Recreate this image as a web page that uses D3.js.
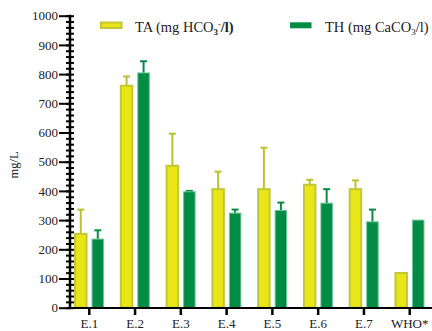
<html>
  <head>
    <script src="https://d3js.org/d3.v7.min.js"></script>
    <style>
      svg text { font-family: "Liberation Serif", "Times New Roman", serif !important; }
    </style>
  </head>
  <body style="margin:0;background:#fff;">
    <div id="chart"></div>
    <script>
      // 1. Data
      const sites = ["E.1", "E.2", "E.3", "E.4", "E.5", "E.6", "E.7", "WHO*"];
      const taMean = [253, 760, 486, 406, 406, 421, 406, 119];
      const taErr = [83, 32, 110, 60, 142, 17, 30, 0];
      const thMean = [235, 804, 397, 324, 333, 358, 294, 300];
      const thErr = [30, 40, 3, 12, 27, 48, 42, 0];
      const yTicks = [0, 100, 200, 300, 400, 500, 600, 700, 800, 900, 1000];

      const width = 432, height = 331;
      const taFill = "#e8e617", taEdge = "#c3c637";
      const thFill = "#008c45", thEdge = "#6cc597";

      const svg = d3.create("svg")
        .attr("width", width)
        .attr("height", height);

      // 2. Scales
      const xScale = d3.scaleBand()
        .domain(sites)
        .range([66.4, 432.6]);

      const yScale = d3.scaleLinear()
        .domain([0, 1000])
        .range([307.7, 15.7]);

      const half = 8.5, bw = 11.5;

      const rows = sites.map((s, i) => [
        {site: s, key: "ta", value: taMean[i], err: taErr[i]},
        {site: s, key: "th", value: thMean[i], err: thErr[i]}
      ]).flat();

      const cx = d => xScale(d.site) + xScale.bandwidth() / 2 + (d.key === "ta" ? -half : half);

      // 3. Error bars (drawn under bars)
      const eb = svg.append("g")
        .selectAll("g")
        .data(rows.filter(d => d.err > 0))
        .join("g")
        .attr("stroke", d => d.key === "ta" ? "#bcc22e" : "#0a8a45")
        .attr("stroke-width", 2);
      eb.append("line")
        .attr("x1", cx).attr("x2", cx)
        .attr("y1", d => yScale(d.value)).attr("y2", d => yScale(d.value + d.err));
      eb.append("line")
        .attr("x1", d => cx(d) - 3.5).attr("x2", d => cx(d) + 3.5)
        .attr("y1", d => yScale(d.value + d.err)).attr("y2", d => yScale(d.value + d.err));

      // 4. Bars
      svg.append("g")
        .selectAll("rect")
        .data(rows)
        .join("rect")
        .attr("x", d => cx(d) - bw / 2)
        .attr("y", d => yScale(d.value))
        .attr("width", bw)
        .attr("height", d => yScale(0) - yScale(d.value))
        .attr("fill", d => d.key === "ta" ? taFill : thFill)
        .attr("stroke", d => d.key === "ta" ? taEdge : thEdge)
        .attr("stroke-width", d => d.key === "ta" ? 2 : 1);

      // 5. Y axis with minor ticks
      const yAxis = svg.append("g")
        .attr("transform", "translate(70,0)");
      yAxis.append("g")
        .call(d3.axisLeft(yScale).tickValues(d3.range(0, 1001, 20)).tickSize(0).tickFormat(""))
        .call(g => g.selectAll(".tick line").attr("x1", -4).attr("x2", 4).attr("stroke-width", 2))
        .call(g => g.select(".domain").remove());
      yAxis.append("g")
        .call(d3.axisLeft(yScale).tickValues(yTicks).tickFormat(d3.format("d")).tickSize(11).tickPadding(1))
        .call(g => g.selectAll(".tick line").attr("stroke-width", 2))
        .call(g => g.selectAll(".tick text").attr("font-size", 13).attr("fill", "#222"))
        .call(g => g.select(".domain").attr("stroke-width", 2.5).attr("d", "M0,308.7V14.7"));

      // 6. X axis
      svg.append("g")
        .attr("transform", "translate(0,308)")
        .call(d3.axisBottom(xScale).tickSize(7).tickPadding(4))
        .call(g => g.select(".domain").attr("stroke-width", 2).attr("d", "M69,0H432"))
        .call(g => g.selectAll(".tick line").attr("stroke-width", 2.5))
        .call(g => g.selectAll(".tick text").attr("font-size", 13).attr("fill", "#222"));

      // 7. Y label
      svg.append("text")
        .attr("transform", "translate(18,165) rotate(-90)")
        .attr("text-anchor", "middle")
        .attr("font-size", 12.5)
        .attr("fill", "#222")
        .text("mg/L");

      // 8. Legend
      svg.append("rect").attr("x", 101).attr("y", 22.5).attr("width", 20.5).attr("height", 5.5)
        .attr("fill", taFill).attr("stroke", taEdge).attr("stroke-width", 2);
      const t1 = svg.append("text").attr("x", 135).attr("y", 32).attr("font-size", 14.5).attr("fill", "#222");
      t1.append("tspan").text("TA (mg HCO");
      t1.append("tspan").attr("font-size", 9).attr("dy", 3).attr("font-weight", "bold").text("3");
      t1.append("tspan").attr("font-size", 8).attr("dy", -8).text("-");
      t1.append("tspan").attr("dy", 5).attr("font-weight", "bold").text("/l)");

      svg.append("rect").attr("x", 290).attr("y", 22.3).attr("width", 21.5).attr("height", 6)
        .attr("fill", thFill);
      const t2 = svg.append("text").attr("x", 325).attr("y", 32).attr("font-size", 14.5).attr("fill", "#222");
      t2.append("tspan").text("TH (mg CaCO");
      t2.append("tspan").attr("font-size", 9).attr("dy", 3).text("3");
      t2.append("tspan").attr("dy", -3).text("/l)");

      document.getElementById("chart").appendChild(svg.node());
    </script>
  </body>
</html>
